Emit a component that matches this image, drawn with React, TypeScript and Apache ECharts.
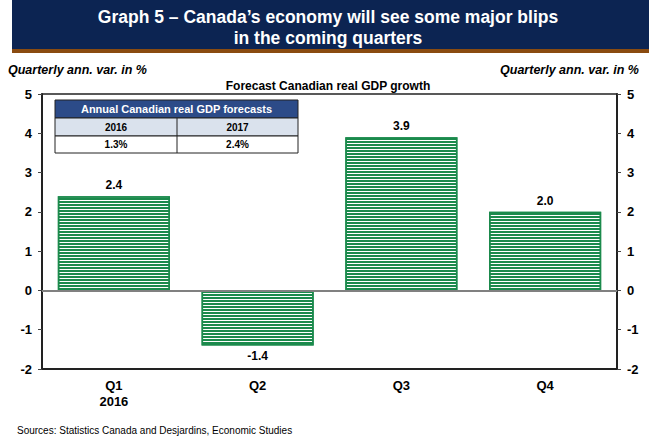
import React, { useEffect, useRef } from "react";
import * as echarts from "echarts";

const quarters = ["Q1\n2016", "Q2", "Q3", "Q4"];
const growth = [2.4, -1.4, 3.9, 2.0];
const tableYears = ["2016", "2017"];
const tableValues = ["1.3%", "2.4%"];
const yMin = -2;
const yMax = 5;

const FONT = "Arial, 'Liberation Sans', sans-serif";
const GREEN = "#1b8a4c";

export default function App() {
  const ref = useRef<HTMLDivElement>(null);
  useEffect(() => {
    if (!ref.current) return;
    const chart = echarts.init(ref.current, null, { renderer: "svg" });
    const yAxisBase = (pos: "left" | "right") => ({
      type: "value" as const,
      position: pos,
      min: yMin,
      max: yMax,
      interval: 1,
      splitLine: { show: false },
      axisLine: { show: true, lineStyle: { color: "#222", width: 2 } },
      axisTick: { show: true, length: 4, lineStyle: { color: "#444", width: 1 } },
      axisLabel: {
        margin: 10,
        color: "#000",
        fontWeight: "bold",
        fontSize: 13,
        fontFamily: FONT,
      },
    });
    const option: any = {
      animation: false,
      backgroundColor: "#fff",
      grid: { left: 42, right: 32, top: 94, bottom: 69, containLabel: false },
      xAxis: [
        {
          type: "category",
          data: quarters,
          position: "bottom",
          axisLine: { show: true, onZero: false, lineStyle: { color: "#222", width: 2 } },
          axisTick: { show: false },
          axisLabel: {
            margin: 8,
            color: "#000",
            fontWeight: "bold",
            fontSize: 13,
            lineHeight: 16,
            fontFamily: FONT,
          },
        },
        {
          type: "category",
          data: quarters,
          position: "top",
          axisLine: { show: true, onZero: false, lineStyle: { color: "#222", width: 1.5 } },
          axisTick: { show: false },
          axisLabel: { show: false },
        },
      ],
      yAxis: [yAxisBase("left"), yAxisBase("right")],
      series: [
        {
          type: "bar",
          data: growth.map((v) => ({
            value: v,
            label: { position: v >= 0 ? "top" : "bottom" },
          })),
          barWidth: "78%",
          itemStyle: {
            color: "#ffffff",
            borderColor: GREEN,
            borderWidth: 1.5,
            decal: {
              symbol: "rect",
              symbolSize: 1,
              color: GREEN,
              dashArrayX: [1, 0],
              dashArrayY: [2, 1],
              rotation: 0,
            },
          },
          label: {
            show: true,
            distance: 5,
            color: "#000",
            fontWeight: "bold",
            fontSize: 12,
            fontFamily: FONT,
            formatter: (p: any) => Number(p.value).toFixed(1),
          },
          markLine: {
            silent: true,
            symbol: ["none", "none"],
            label: { show: false },
            lineStyle: { color: "#808080", width: 2, type: "solid" },
            data: [{ yAxis: 0 }],
          },
        },
      ],
      graphic: [
        {
          type: "rect",
          shape: { x: 12, y: 0, width: 637, height: 49 },
          style: { fill: "#0c2452" },
        },
        {
          type: "rect",
          shape: { x: 12, y: 49, width: 637, height: 4 },
          style: { fill: "#8a4b10" },
        },
        {
          type: "text",
          x: 328,
          y: 17,
          style: {
            text: "Graph 5 – Canada’s economy will see some major blips",
            fill: "#fff",
            font: `bold 17.5px ${FONT}`,
            align: "center",
            verticalAlign: "middle",
          },
        },
        {
          type: "text",
          x: 328,
          y: 38,
          style: {
            text: "in the coming quarters",
            fill: "#fff",
            font: `bold 17.5px ${FONT}`,
            align: "center",
            verticalAlign: "middle",
          },
        },
        {
          type: "text",
          x: 8,
          y: 70,
          style: {
            text: "Quarterly ann. var. in %",
            fill: "#000",
            font: `italic bold 12.5px ${FONT}`,
            align: "left",
            verticalAlign: "middle",
          },
        },
        {
          type: "text",
          x: 639,
          y: 70,
          style: {
            text: "Quarterly ann. var. in %",
            fill: "#000",
            font: `italic bold 12.5px ${FONT}`,
            align: "right",
            verticalAlign: "middle",
          },
        },
        {
          type: "text",
          x: 328,
          y: 86,
          style: {
            text: "Forecast Canadian real GDP growth",
            fill: "#000",
            font: `bold 12px ${FONT}`,
            align: "center",
            verticalAlign: "middle",
          },
        },
        {
          type: "text",
          x: 17,
          y: 430,
          style: {
            text: "Sources: Statistics Canada and Desjardins, Economic Studies",
            fill: "#000",
            font: `10px ${FONT}`,
            align: "left",
            verticalAlign: "middle",
          },
        },
        // inset table
        {
          type: "group",
          x: 55,
          y: 100,
          children: [
            { type: "rect", shape: { x: 0, y: 0, width: 243, height: 18 }, style: { fill: "#2c4b88", stroke: "#222", lineWidth: 1 } },
            { type: "rect", shape: { x: 0, y: 18, width: 243, height: 18 }, style: { fill: "#dae2ed", stroke: "#222", lineWidth: 1 } },
            { type: "rect", shape: { x: 0, y: 36, width: 243, height: 17 }, style: { fill: "#fff", stroke: "#222", lineWidth: 1 } },
            { type: "line", shape: { x1: 122, y1: 18, x2: 122, y2: 53 }, style: { stroke: "#222", lineWidth: 1 } },
            {
              type: "text",
              x: 121.5,
              y: 9,
              style: { text: "Annual Canadian real GDP forecasts", fill: "#fff", font: `bold 11px ${FONT}`, align: "center", verticalAlign: "middle" },
            },
            {
              type: "text",
              x: 61,
              y: 27,
              style: { text: tableYears[0], fill: "#000", font: `bold 10px ${FONT}`, align: "center", verticalAlign: "middle" },
            },
            {
              type: "text",
              x: 182.5,
              y: 27,
              style: { text: tableYears[1], fill: "#000", font: `bold 10px ${FONT}`, align: "center", verticalAlign: "middle" },
            },
            {
              type: "text",
              x: 61,
              y: 44.5,
              style: { text: tableValues[0], fill: "#000", font: `bold 10px ${FONT}`, align: "center", verticalAlign: "middle" },
            },
            {
              type: "text",
              x: 182.5,
              y: 44.5,
              style: { text: tableValues[1], fill: "#000", font: `bold 10px ${FONT}`, align: "center", verticalAlign: "middle" },
            },
          ],
        },
      ],
    };
    chart.setOption(option);
    return () => chart.dispose();
  }, []);
  return <div ref={ref} style={{ width: 649, height: 438, position: "absolute", left: 0, top: 0 }} />;
}
